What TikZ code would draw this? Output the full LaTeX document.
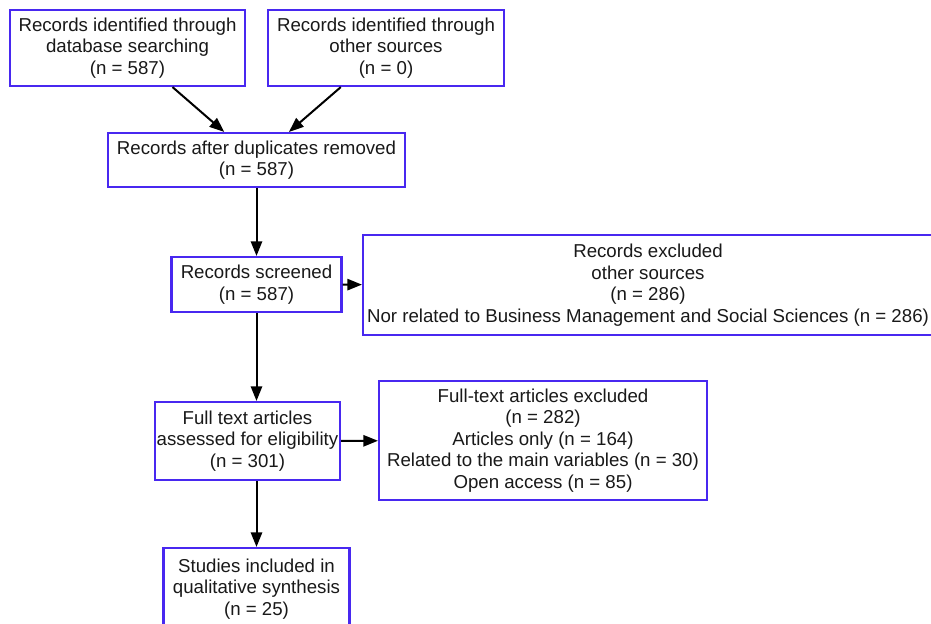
\documentclass[tikz,border=0pt]{standalone}
\usepackage{fontspec}
\setmainfont{Liberation Sans}
\usetikzlibrary{arrows.meta}

\definecolor{boxblue}{RGB}{72,40,240}
\definecolor{inkgray}{RGB}{25,25,25}

\tikzset{
  prisma/.style={draw=boxblue, line width=1.6pt, fill=white, inner sep=0pt,
    align=center, text=inkgray, font=\fontsize{14}{16.2}\selectfont},
  flow/.style={line width=1.5pt, -{Triangle[length=11pt,width=8.5pt]}}
}

\begin{document}
\begin{tikzpicture}[x=0.75pt,y=0.75pt,yscale=-1,xscale=1]
%set diagram to the 931 x 624 frame
\useasboundingbox (0,0) rectangle (931,624);
\clip (0,0) rectangle (931,624);

%Shape: Rectangle [id:identification database]
\node [prisma, minimum width=176.25pt, minimum height=57pt] (recdb) at (127.5,48) {Records identified through\\database searching\\(n = 587)};
%Shape: Rectangle [id:identification other]
\node [prisma, minimum width=177pt, minimum height=57pt] (recother) at (386,48) {Records identified through\\other sources\\(n = 0)};
%Shape: Rectangle [id:duplicates]
\node [prisma, minimum width=222.75pt, minimum height=40.5pt] (dedup) at (256.5,160) {Records after duplicates removed\\(n = 587)};
%Shape: Rectangle [id:screened]
\node [prisma, minimum width=127.5pt, minimum height=41.25pt] (screened) at (256.5,284.5) {Records screened\\(n = 587)};
%Shape: Rectangle [id:excluded records]
\node [prisma, minimum width=427.5pt, minimum height=75pt] (recexcl) at (648,285) {Records excluded\\other sources\\(n = 286)\\Nor related to Business Management and Social Sciences (n = 286)};
%Shape: Rectangle [id:eligibility]
\node [prisma, minimum width=138.75pt, minimum height=58.5pt] (fulltext) at (247.5,441) {Full text articles\\assessed for eligibility\\(n = 301)};
%Shape: Rectangle [id:excluded articles]
\node [prisma, minimum width=246pt, minimum height=89.25pt] (fullexcl) at (543,440.5) {Full-text articles excluded\\(n = 282)\\Articles only (n = 164)\\Related to the main variables (n = 30)\\Open access (n = 85)};
%Shape: Rectangle [id:included]
\node [prisma, minimum width=139.5pt, minimum height=61.5pt] (included) at (256.5,589) {Studies included in\\qualitative synthesis\\(n = 25)};

%Straight Lines with arrows
\draw [flow] (recdb) -- (dedup);
\draw [flow] (recother) -- (dedup);
\draw [flow] (dedup) -- (screened);
\draw [flow] (screened) -- (recexcl);
\draw [flow] (screened.south) -- (screened.south |- fulltext.north);
\draw [flow] (fulltext) -- (fullexcl);
\draw [flow] (included.north |- fulltext.south) -- (included.north);

\end{tikzpicture}
\end{document}
